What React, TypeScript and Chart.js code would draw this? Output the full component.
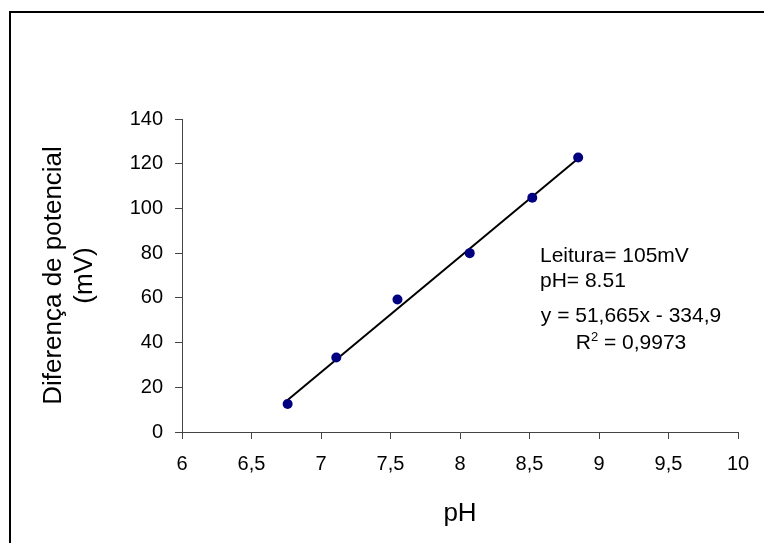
import React, { useEffect, useRef } from "react";
import { Chart, registerables } from "chart.js";

Chart.register(...registerables);

// ---- data ----
const phValues = [6.76, 7.11, 7.55, 8.07, 8.52, 8.85];
const mvValues = [12.5, 33.3, 59.3, 80.0, 104.8, 122.8];
const trendSlope = 51.665;
const trendIntercept = -334.9;
const xTickValues = [6, 6.5, 7, 7.5, 8, 8.5, 9, 9.5, 10];
const yTickValues = [0, 20, 40, 60, 80, 100, 120, 140];
const annotationLines = ["Leitura= 105mV", "pH= 8.51"];
const equationText = "y = 51,665x - 334,9";
const r2Value = "0,9973";
const xTitle = "pH";
const yTitleLines = ["Diferença de potencial", "(mV)"];

const FONT = "'Liberation Sans', Arial, Helvetica, sans-serif";

export default function App() {
  const ref = useRef<HTMLCanvasElement | null>(null);

  useEffect(() => {
    if (!ref.current) return;
    const xMin = Math.min(...phValues);
    const xMax = Math.max(...phValues);
    const trendData = [xMin, xMax].map((x) => ({ x, y: trendSlope * x + trendIntercept }));

    const overlay = {
      id: "overlay",
      beforeDraw(chart: any) {
        const ctx = chart.ctx;
        ctx.save();
        ctx.fillStyle = "#fff";
        ctx.fillRect(0, 0, chart.width, chart.height);
        ctx.strokeStyle = "#000";
        ctx.lineWidth = 2;
        ctx.strokeRect(10, 12, 1000, 1000);
        ctx.restore();
      },
      afterDraw(chart: any) {
        const ctx = chart.ctx;
        const area = chart.chartArea;
        ctx.save();
        ctx.fillStyle = "#000";
        // y title
        ctx.font = `26px ${FONT}`;
        ctx.textAlign = "center";
        ctx.textBaseline = "middle";
        const cy = (area.top + area.bottom) / 2;
        const lineX = [54, 85];
        yTitleLines.forEach((t, i) => {
          ctx.save();
          ctx.translate(lineX[i], cy);
          ctx.rotate(-Math.PI / 2);
          ctx.fillText(t, 0, 0);
          ctx.restore();
        });
        // x title
        ctx.font = `26px ${FONT}`;
        ctx.textBaseline = "alphabetic";
        ctx.fillText(xTitle, (area.left + area.right) / 2, 521);

        // annotation
        ctx.font = `21px ${FONT}`;
        ctx.textAlign = "left";
        ctx.fillText(annotationLines[0], 540, 262);
        ctx.fillText(annotationLines[1], 540, 287);
        ctx.textAlign = "center";
        ctx.fillText(equationText, 631, 322);
        // R^2
        ctx.textAlign = "left";
        const rest = " = " + r2Value;
        ctx.font = `21px ${FONT}`;
        const wR = ctx.measureText("R").width;
        const wRest = ctx.measureText(rest).width;
        ctx.font = `13px ${FONT}`;
        const w2 = ctx.measureText("2").width;
        const total = wR + w2 + wRest;
        const x0 = 631 - total / 2;
        ctx.font = `21px ${FONT}`;
        ctx.fillText("R", x0, 349);
        ctx.font = `13px ${FONT}`;
        ctx.fillText("2", x0 + wR, 341);
        ctx.font = `21px ${FONT}`;
        ctx.fillText(rest, x0 + wR + w2, 349);
        ctx.restore();
      },
    };

    const chart = new Chart(ref.current, {
      type: "scatter",
      data: {
        datasets: [
          {
            type: "line",
            data: trendData,
            borderColor: "#000",
            borderWidth: 2,
            pointRadius: 0,
            fill: false,
            order: 2,
          } as any,
          {
            data: phValues.map((x, i) => ({ x, y: mvValues[i] })),
            backgroundColor: "#000080",
            borderColor: "#000080",
            pointRadius: 5,
            pointBorderWidth: 0,
            order: 1,
          },
        ],
      },
      options: {
        responsive: false,
        animation: false,
        layout: { padding: { top: 119, right: 26, left: 0, bottom: 0 } },
        plugins: { legend: { display: false }, tooltip: { enabled: false } },
        scales: {
          x: {
            type: "linear",
            min: xTickValues[0],
            max: xTickValues[xTickValues.length - 1],
            afterBuildTicks: (s: any) => {
              s.ticks = xTickValues.map((v) => ({ value: v }));
            },
            afterFit: (s: any) => {
              s.height = 111;
            },
            ticks: {
              callback: (v: any) => String(v).replace(".", ","),
              font: { size: 20, family: FONT },
              color: "#000",
              padding: 13,
              maxRotation: 0,
              autoSkip: false,
            },
            grid: { drawOnChartArea: false, drawTicks: true, tickLength: 7, color: "#444" },
            border: { color: "#444", width: 1 },
          },
          y: {
            type: "linear",
            min: yTickValues[0],
            max: yTickValues[yTickValues.length - 1],
            afterBuildTicks: (s: any) => {
              s.ticks = yTickValues.map((v) => ({ value: v }));
            },
            afterFit: (s: any) => {
              s.width = 182;
            },
            ticks: {
              font: { size: 20, family: FONT },
              color: "#000",
              padding: 12,
              autoSkip: false,
            },
            grid: { drawOnChartArea: false, drawTicks: true, tickLength: 7, color: "#444" },
            border: { color: "#444", width: 1 },
          },
        },
      },
      plugins: [overlay],
    } as any);

    return () => chart.destroy();
  }, []);

  return (
    <div style={{ position: "absolute", left: 0, top: 0, width: 764, height: 543 }}>
      <canvas ref={ref} width={764} height={543} style={{ display: "block" }} />
    </div>
  );
}
